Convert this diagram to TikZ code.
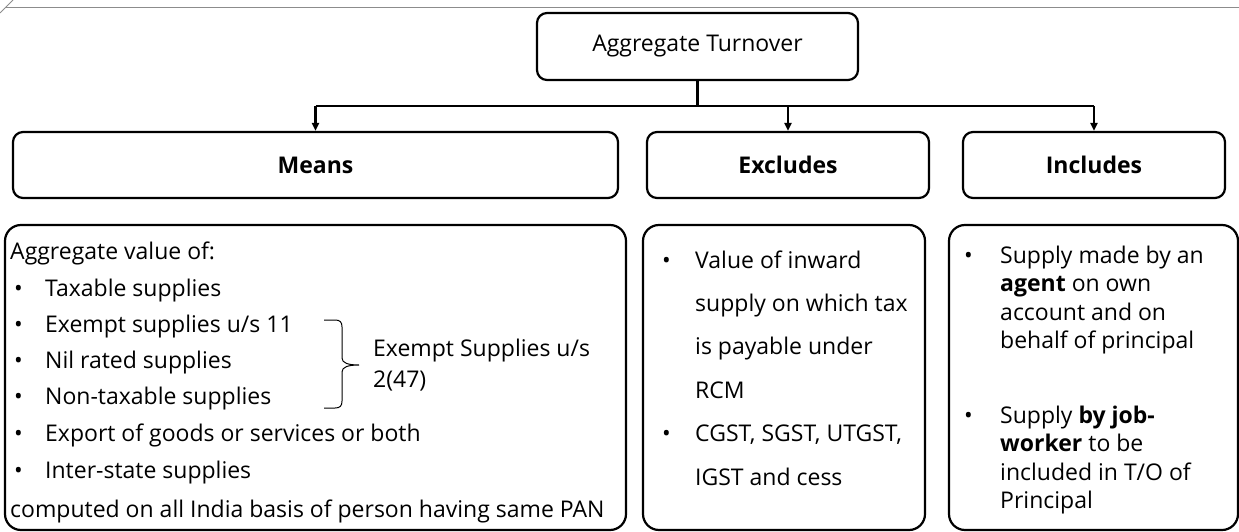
\documentclass[tikz,border=0pt]{standalone}
\usepackage{fontspec}
\setmainfont{Open Sans}
\usetikzlibrary{arrows.meta,calc}

\tikzset{
  hdrbox/.style={draw, line width=2.2pt, rounded corners=10pt, inner sep=0pt, align=center},
  listbox/.style={draw, line width=2.2pt, rounded corners=16pt, inner sep=0pt},
  conn/.style={line width=2.2pt},
  connarrow/.style={line width=2.2pt, -{Triangle[length=8pt,width=7pt]}},
  body/.style={font=\fontsize{23}{27}\selectfont, inner sep=0pt, anchor=base west},
  hdr/.style={font=\fontsize{23}{27}\selectfont\bfseries},
  frame/.style={draw=black!45, line width=1pt},
}

\begin{document}
\begin{tikzpicture}[x=1pt, y=-1pt]
\useasboundingbox (0,0) rectangle (1239,532);

% page frame
\draw[frame] (5,8) -- (1239,8);
\draw[frame] (0,13) -- (13,0);

% header boxes
\node[hdrbox, minimum width=321pt, minimum height=67pt, font=\fontsize{23}{27}\selectfont] (top) at (697.5,46.5) {Aggregate Turnover};
\node[hdrbox, hdr, minimum width=605pt, minimum height=66pt] (means) at (315.5,165) {Means};
\node[hdrbox, hdr, minimum width=282pt, minimum height=66pt] (excl) at (788,165) {Excludes};
\node[hdrbox, hdr, minimum width=262pt, minimum height=66pt] (incl) at (1094,165) {Includes};

% content boxes
\node[listbox, minimum width=621pt, minimum height=305pt] (meansbody) at (315.5,377.5) {};
\node[listbox, minimum width=282pt, minimum height=305pt] (exclbody) at (784,377.5) {};
\node[listbox, minimum width=289pt, minimum height=305pt] (inclbody) at (1093.5,377.5) {};

% connectors
\coordinate (busM) at (means.north |- 0,106);
\coordinate (busI) at (incl.north |- 0,106);
\draw[conn] (top.south) -- (top.south |- busM);
\draw[conn] (busM) -- (busI);
\draw[connarrow] (busM) -- (means.north);
\draw[connarrow] (excl.north |- busM) -- (excl.north);
\draw[connarrow] (busI) -- (incl.north);

% Means list
\node[body] (m0) at (10,259) {Aggregate value of:};
\foreach \i/\y/\t in {1/296/{Taxable supplies},
                      2/332/{Exempt supplies u/s 11},
                      3/368/{Nil rated supplies},
                      4/404/{Non-taxable supplies},
                      5/441/{Export of goods or services or both},
                      6/478/{Inter-state supplies}}{
  \node[body] (mb\i) at (14,\y) {•};
  \node[body] (m\i) at (45,\y) {\t};
}
\node[body] (m7) at (10,517) {computed on all India basis of person having same PAN};

% brace over the exempt group
\draw[line width=1pt] (324,320) -- (335,320)
   .. controls (340,320) and (342,322) .. (342,327) -- (342,358)
   .. controls (342,363) and (348,365) .. (359,365)
   .. controls (348,365) and (342,367) .. (342,372) -- (342,401)
   .. controls (342,406) and (340,408) .. (335,408) -- (324,408);
\node[body] (ex1) at (373,356) {Exempt Supplies u/s};
\node[body] (ex2) at (373,387) {2(47)};

% Excludes list
\node[body] (eb1) at (662,268) {•};
\foreach \i/\y/\t in {1/268/{Value of inward},
                      2/311/{supply on which tax},
                      3/354/{is payable under},
                      4/398/{RCM}}{
  \node[body] (e\i) at (695,\y) {\t};
}
\node[body] (eb2) at (662,441) {•};
\node[body] (e5) at (695,441) {CGST, SGST, UTGST,};
\node[body] (e6) at (695,485) {IGST and cess};

% Includes list
\node[body] (ib1) at (964,263) {•};
\node[body] (i1) at (1000,263) {Supply made by an};
\node[body] (i2) at (1000,291) {\textbf{agent} on own};
\node[body] (i3) at (1000,320) {account and on};
\node[body] (i4) at (1000,348) {behalf of principal};
\node[body] (ib2) at (964,423) {•};
\node[body] (i5) at (1000,423) {Supply \textbf{by job-}};
\node[body] (i6) at (1000,451) {\textbf{worker} to be};
\node[body] (i7) at (1000,480) {included in T/O of};
\node[body] (i8) at (1000,508) {Principal};
\end{tikzpicture}
\end{document}
